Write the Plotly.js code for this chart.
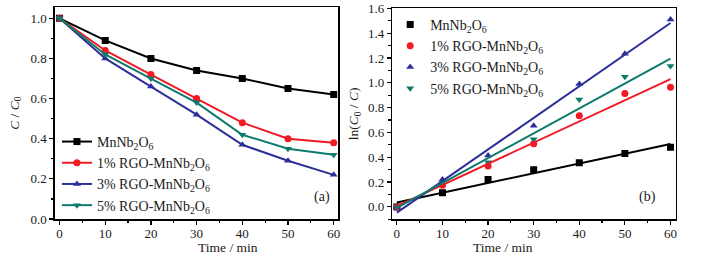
<!DOCTYPE html>
<html>
<head>
<meta charset="utf-8">
<script src="https://cdn.plot.ly/plotly-3.0.1.min.js"></script>
<style>html,body{margin:0;padding:0;background:#fff;}#chart{width:712px;height:256px;}</style>
</head>
<body>
<div id="chart"></div>
<script>
// Data
const time = [0, 10, 20, 30, 40, 50, 60];
const seriesNames = ["MnNb<sub>2</sub>O<sub>6</sub>", "1% RGO-MnNb<sub>2</sub>O<sub>6</sub>", "3% RGO-MnNb<sub>2</sub>O<sub>6</sub>", "5% RGO-MnNb<sub>2</sub>O<sub>6</sub>"];
const xTitle = "Time / min";
// Panel (a): C / C0
const ratioMn  = [1.0, 0.89, 0.80, 0.74, 0.70, 0.65, 0.62];
const ratio1   = [1.0, 0.84, 0.72, 0.60, 0.48, 0.40, 0.38];
const ratio3   = [1.0, 0.80, 0.66, 0.52, 0.37, 0.29, 0.22];
const ratio5   = [1.0, 0.82, 0.70, 0.58, 0.42, 0.35, 0.32];
// Panel (b): ln(C0 / C)
const lnMn = [0.0, 0.115, 0.22, 0.30, 0.355, 0.43, 0.48];
const ln1  = [0.0, 0.175, 0.33, 0.51, 0.735, 0.915, 0.965];
const ln3  = [0.0, 0.22, 0.415, 0.655, 0.99, 1.235, 1.51];
const ln5  = [0.0, 0.20, 0.36, 0.545, 0.865, 1.05, 1.135];

const colors = ["#000000", "#f01a24", "#2c2f98", "#0d7a6c"];
const symbols = ["square", "circle", "triangle-up", "triangle-down"];
const ratios = [ratioMn, ratio1, ratio3, ratio5];
const lns = [lnMn, ln1, ln3, ln5];

function fit(x, y) {
  const n = x.length;
  const mx = x.reduce((a, b) => a + b, 0) / n;
  const my = y.reduce((a, b) => a + b, 0) / n;
  let sxy = 0, sxx = 0;
  for (let i = 0; i < n; i++) { sxy += (x[i] - mx) * (y[i] - my); sxx += (x[i] - mx) ** 2; }
  const k = sxy / sxx;
  return { k: k, b: my - k * mx };
}

const FONT = "Liberation Serif";
const TXT = "#1a1a1a";
const traces = [];
ratios.forEach((r, i) => {
  traces.push({
    x: time, y: r, type: "scatter", mode: "lines+markers", name: seriesNames[i],
    line: { color: colors[i], width: 2 },
    marker: { symbol: symbols[i], size: 7, color: colors[i] },
    xaxis: "x", yaxis: "y", legend: "legend"
  });
});
lns.forEach((r, i) => {
  traces.push({
    x: time, y: r, type: "scatter", mode: "markers", name: seriesNames[i],
    marker: { symbol: symbols[i], size: 7, color: colors[i] },
    xaxis: "x2", yaxis: "y2", legend: "legend2"
  });
});
lns.forEach((r, i) => {
  const f = fit(time, r);
  const xs = [time[0], time[time.length - 1]];
  traces.push({
    x: xs, y: xs.map(v => f.k * v + f.b), type: "scatter", mode: "lines",
    line: { color: colors[i], width: 2 }, showlegend: false, hoverinfo: "skip",
    xaxis: "x2", yaxis: "y2"
  });
});

const axBase = {
  showline: true, linecolor: "#000", linewidth: 1.5, mirror: true,
  ticks: "outside", ticklen: 4, tickwidth: 1.2, tickcolor: "#000",
  showgrid: false, zeroline: false,
  tickfont: { family: FONT, size: 13, color: TXT }
};
function ax(extra) { return Object.assign(JSON.parse(JSON.stringify(axBase)), extra); }
const titleFont = { family: FONT, size: 13.5, color: TXT };
const dA = [0.0772, 0.4751], dB = [0.551, 0.9494];

const layout = {
  width: 712, height: 256,
  margin: { l: 0, r: 0, t: 0, b: 0 },
  paper_bgcolor: "#fff", plot_bgcolor: "#fff",
  font: { family: FONT, size: 14, color: TXT },
  xaxis: ax({ domain: dA, range: [-1, 61], dtick: 10, anchor: "y", ticklabelstandoff: -2,
    minor: { ticks: "outside", ticklen: 2.5, dtick: 5, tickcolor: "#000" } }),
  yaxis: ax({ domain: [0.1445, 0.9715], range: [0, 1.055], dtick: 0.2, tickformat: ".1f", anchor: "x",
    minor: { ticks: "outside", ticklen: 2.5, dtick: 0.1, tickcolor: "#000" },
    title: { text: "<i>C</i> / <i>C</i><sub>0</sub>", standoff: 8, font: titleFont } }),
  xaxis2: ax({ domain: dB, range: [-1, 61.2], dtick: 10, anchor: "y2", ticklabelstandoff: -2,
    minor: { ticks: "outside", ticklen: 2.5, dtick: 5, tickcolor: "#000" } }),
  yaxis2: ax({ domain: [0.1434, 0.967], range: [-0.1, 1.6], dtick: 0.2, tickformat: ".1f", anchor: "x2",
    minor: { ticks: "outside", ticklen: 2.5, dtick: 0.1, tickcolor: "#000" },
    title: { text: "ln(<i>C</i><sub>0</sub> / <i>C</i>)", standoff: 6, font: titleFont } }),
  legend: { x: 0.08, y: 0.508, xanchor: "left", yanchor: "top", bgcolor: "rgba(0,0,0,0)",
    font: { family: FONT, size: 14, color: TXT }, tracegroupgap: 0, itemwidth: 30 },
  legend2: { x: 0.548, y: 0.965, xanchor: "left", yanchor: "top", bgcolor: "rgba(0,0,0,0)",
    font: { family: FONT, size: 14, color: TXT }, tracegroupgap: 0, itemwidth: 30 },
  annotations: [
    { text: "(a)", xref: "paper", yref: "paper", x: 0.452, y: 0.19, showarrow: false,
      font: { family: FONT, size: 14, color: TXT } },
    { text: "(b)", xref: "paper", yref: "paper", x: 0.924, y: 0.19, showarrow: false,
      font: { family: FONT, size: 14, color: TXT } },
    { text: xTitle, xref: "paper", yref: "paper", x: (dA[0] + dA[1]) / 2, y: 0.0, yanchor: "bottom",
      showarrow: false, font: titleFont, borderpad: 0 },
    { text: xTitle, xref: "paper", yref: "paper", x: (dB[0] + dB[1]) / 2, y: 0.0, yanchor: "bottom",
      showarrow: false, font: titleFont, borderpad: 0 }
  ],
  showlegend: true
};

Plotly.newPlot("chart", traces, layout, { staticPlot: true, displayModeBar: false });
</script>
</body>
</html>
